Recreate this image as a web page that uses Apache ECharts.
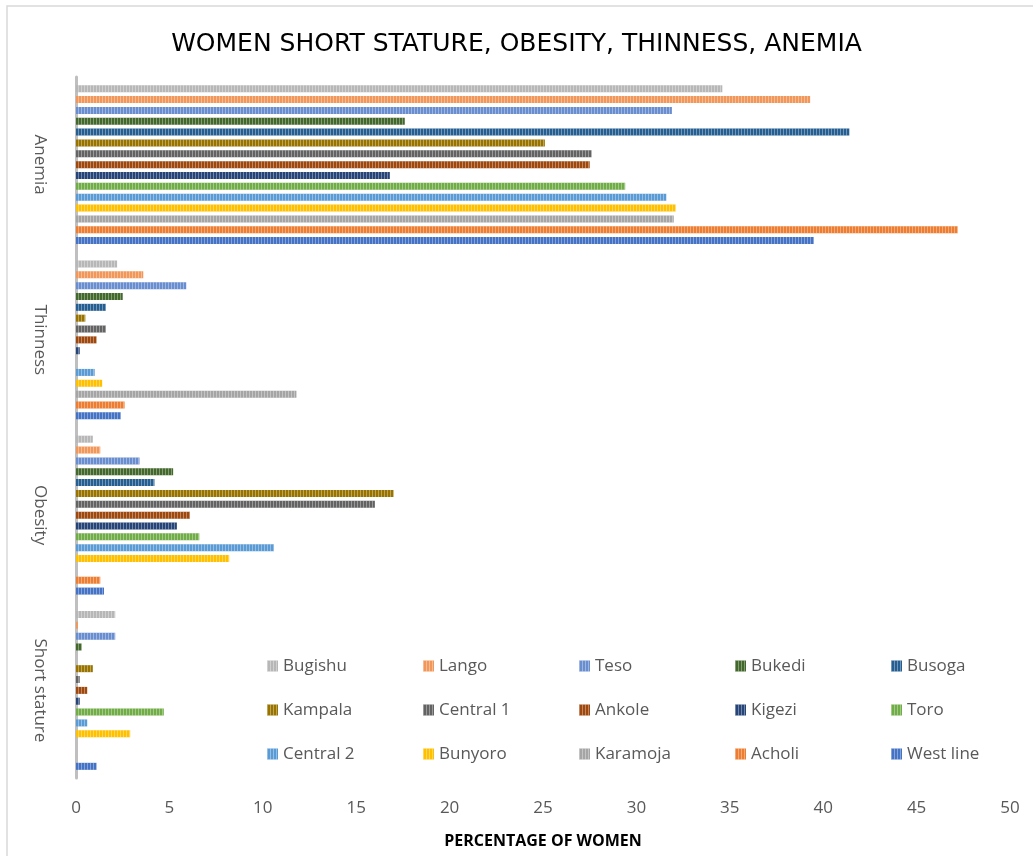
<!DOCTYPE html>
<html>
<head>
<meta charset="utf-8">
<script src="https://cdn.jsdelivr.net/npm/echarts@6/dist/echarts.min.js"></script>
<style>
  html, body { margin: 0; padding: 0; background: #fff; }
  #chart { width: 1033px; height: 856px; }
</style>
</head>
<body>
<div id="chart"></div>
<script>
// categories bottom -> top
const categories = ["Short stature", "Obesity", "Thinness", "Anemia"];
const xTicks = [0, 5, 10, 15, 20, 25, 30, 35, 40, 45, 50];

// regions listed top -> bottom inside each group (same as legend order)
const regions = ["Bugishu", "Lango", "Teso", "Bukedi", "Busoga", "Kampala", "Central 1",
  "Ankole", "Kigezi", "Toro", "Central 2", "Bunyoro", "Karamoja", "Acholi", "West line"];
const colors = ["#B7B7B7", "#F1975A", "#698ED0", "#43682B", "#255E91", "#997300", "#636363",
  "#9E480E", "#264478", "#70AD47", "#5B9BD5", "#FFC000", "#A5A5A5", "#ED7D31", "#4472C4"];

// values per region: [Short stature, Obesity, Thinness, Anemia]
const bugishu  = [2.1, 0.9, 2.2, 34.6];
const lango    = [0.1, 1.3, 3.6, 39.3];
const teso     = [2.1, 3.4, 5.9, 31.9];
const bukedi   = [0.3, 5.2, 2.5, 17.6];
const busoga   = [0, 4.2, 1.6, 41.4];
const kampala  = [0.9, 17.0, 0.5, 25.1];
const central1 = [0.2, 16.0, 1.6, 27.6];
const ankole   = [0.6, 6.1, 1.1, 27.5];
const kigezi   = [0.2, 5.4, 0.2, 16.8];
const toro     = [4.7, 6.6, 0, 29.4];
const central2 = [0.6, 10.6, 1.0, 31.6];
const bunyoro  = [2.9, 8.2, 1.4, 32.1];
const karamoja = [0, 0, 11.8, 32.0];
const acholi   = [0, 1.3, 2.6, 47.2];
const westLine = [1.1, 1.5, 2.4, 39.5];

const values = [bugishu, lango, teso, bukedi, busoga, kampala, central1,
  ankole, kigezi, toro, central2, bunyoro, karamoja, acholi, westLine];

const chart = echarts.init(document.getElementById("chart"));

const stripes = {
  symbol: "rect",
  symbolSize: 1,
  color: "rgba(255,255,255,0.35)",
  dashArrayX: [1, 2],
  dashArrayY: [4, 0],
  rotation: 0
};

// echarts puts the first series at the top of a horizontal group
const series = regions.map((name, i) => ({
  name: name,
  type: "bar",
  data: values[i],
  barWidth: 7,
  barGap: "55%",
  itemStyle: { color: colors[i], decal: stripes },
  emphasis: { disabled: true }
}));

const option = {
  animation: false,
  textStyle: { fontFamily: "Open Sans" },
  title: {
    text: "WOMEN SHORT STATURE, OBESITY, THINNESS, ANEMIA",
    left: "center",
    top: 27,
    textStyle: { fontFamily: "DejaVu Sans", fontSize: 25, fontWeight: "normal", color: "#000" }
  },
  legend: {
    data: regions,
    left: 262,
    top: 644,
    width: 790,
    itemWidth: 11,
    itemHeight: 11,
    itemGap: 10,
    icon: "rect",
    textStyle: { fontSize: 17, color: "#595959", width: 130, lineHeight: 34 }
  },
  grid: { left: 76, right: 23, top: 77, bottom: 78, containLabel: false },
  xAxis: {
    type: "value",
    min: xTicks[0],
    max: xTicks[xTicks.length - 1],
    interval: 5,
    name: "PERCENTAGE OF WOMEN",
    nameLocation: "middle",
    nameGap: 55,
    nameTextStyle: { fontSize: 16, fontWeight: "bold", color: "#000" },
    axisLine: { show: false },
    axisTick: { show: false },
    splitLine: { show: false },
    axisLabel: { fontSize: 17, color: "#595959", margin: 22 }
  },
  yAxis: {
    type: "category",
    data: categories,
    axisLine: { lineStyle: { color: "#BFBFBF", width: 3 } },
    axisTick: { show: false },
    axisLabel: { rotate: -90, fontSize: 17, color: "#595959", margin: 28 }
  },
  graphic: [{
    type: "rect",
    shape: { x: 7, y: 6, width: 1100, height: 900 },
    style: { fill: "none", stroke: "#D9D9D9", lineWidth: 1.5 },
    silent: true
  }],
  series: series
};

chart.setOption(option);
</script>
</body>
</html>
